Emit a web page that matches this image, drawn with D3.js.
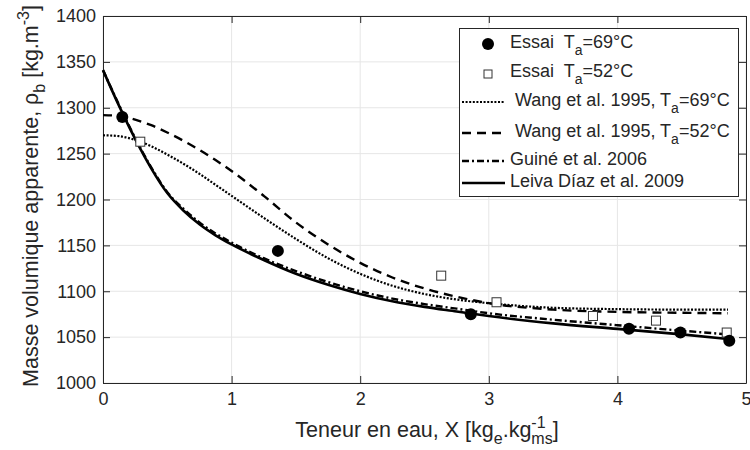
<!DOCTYPE html>
<html>
<head>
<meta charset="utf-8">
<script src="https://cdn.jsdelivr.net/npm/d3@7"></script>
<style>
  body { margin: 0; background: #fff; }
  text { font-family: "Liberation Sans", Arial, Helvetica, sans-serif; fill: #262626; }
</style>
</head>
<body>
<svg id="chart" width="750" height="450"></svg>
<script>
// measured points
const essai69X = [0.15, 1.36, 2.86, 4.09, 4.49, 4.87];
const essai69Y = [1290, 1144, 1075, 1059, 1055, 1046];
const essai52X = [0.29, 2.63, 3.06, 3.81, 4.30, 4.85];
const essai52Y = [1263, 1117, 1088, 1073, 1068, 1055];

// model curves
const xModel = [0, 0.125, 0.25, 0.375, 0.5, 0.625, 0.75, 0.875, 1, 1.25, 1.5, 1.75, 2, 2.25, 2.5, 2.75, 3, 3.5, 4, 4.5, 4.86];
const wang69 = [1270, 1269, 1265, 1258, 1249, 1239, 1228, 1216, 1204, 1180, 1157, 1136, 1119, 1106, 1097, 1091, 1087, 1082, 1080.5, 1080, 1080];
const wang52 = [1292, 1291, 1287, 1281, 1273, 1264, 1254, 1243, 1231, 1204, 1175, 1151, 1131, 1115, 1103, 1094, 1087, 1080, 1077.5, 1076.5, 1076];
const guine = [1341, 1303, 1267, 1235, 1208, 1190, 1175, 1163, 1153, 1136, 1122, 1110, 1100, 1092, 1086, 1081, 1076, 1069, 1063, 1057, 1053];
const leiva = [1341, 1302, 1266, 1234, 1207, 1188, 1173, 1161, 1151, 1134, 1119, 1107, 1097, 1089, 1083, 1078, 1073, 1065, 1059, 1053, 1048];

const xTicks = [0, 1, 2, 3, 4, 5];
const yTicks = [1000, 1050, 1100, 1150, 1200, 1250, 1300, 1350, 1400];

const ink = '#262626';
const pL = 103, pR = 746, pT = 16, pB = 383;

const svg = d3.select('#chart');
const x = d3.scaleLinear().domain([0, 5]).range([pL, pR]);
const y = d3.scaleLinear().domain([1000, 1400]).range([pB, pT]);

// grid
svg.append('g').selectAll('line').data(xTicks).join('line')
  .attr('x1', d => x(d)).attr('x2', d => x(d)).attr('y1', pT).attr('y2', pB)
  .attr('stroke', '#e6e6e6');
svg.append('g').selectAll('line').data(yTicks).join('line')
  .attr('y1', d => y(d)).attr('y2', d => y(d)).attr('x1', pL).attr('x2', pR)
  .attr('stroke', '#e6e6e6');

// axes, ticks inside like matlab
const tk = 7;
const fmt = d3.format('d');
const axB = svg.append('g').attr('transform', `translate(0,${pB})`)
  .call(d3.axisBottom(x).tickValues(xTicks).tickFormat(fmt).tickSizeInner(-tk).tickSizeOuter(0).tickPadding(9));
const axT = svg.append('g').attr('transform', `translate(0,${pT})`)
  .call(d3.axisTop(x).tickValues(xTicks).tickSizeInner(-tk).tickSizeOuter(0).tickFormat(''));
const axL = svg.append('g').attr('transform', `translate(${pL},0)`)
  .call(d3.axisLeft(y).tickValues(yTicks).tickFormat(fmt).tickSizeInner(-tk).tickSizeOuter(0).tickPadding(7));
const axR = svg.append('g').attr('transform', `translate(${pR},0)`)
  .call(d3.axisRight(y).tickValues(yTicks).tickSizeInner(-tk).tickSizeOuter(0).tickFormat(''));
[axB, axT, axL, axR].forEach(a => {
  a.attr('font-family', null);
  a.select('.domain').attr('stroke', ink);
  a.selectAll('.tick line').attr('stroke', ink);
  a.selectAll('.tick text').attr('fill', ink).style('font-size', '18px');
});

// curves
const line = (ys) => d3.line().x((d, i) => x(xModel[i])).y(d => y(d)).curve(d3.curveMonotoneX)(ys);
const styles = [
  { data: wang69, dash: '2,1.6', w: 2.2 },
  { data: wang52, dash: '9,6', w: 2.4 },
  { data: guine, dash: '7,3,2,3', w: 2.4 },
  { data: leiva, dash: null, w: 2.6 }
];
styles.forEach(s => {
  svg.append('path').attr('d', line(s.data)).attr('fill', 'none')
    .attr('stroke', '#000').attr('stroke-width', s.w)
    .attr('stroke-dasharray', s.dash);
});

// markers
svg.append('g').selectAll('rect').data(essai52X).join('rect')
  .attr('x', (d) => x(d) - 4.5).attr('y', (d, i) => y(essai52Y[i]) - 4.5)
  .attr('width', 9).attr('height', 9)
  .attr('fill', '#fff').attr('stroke', '#333').attr('stroke-width', 1);
svg.append('g').selectAll('circle').data(essai69X).join('circle')
  .attr('cx', d => x(d)).attr('cy', (d, i) => y(essai69Y[i])).attr('r', 6)
  .attr('fill', '#000');

// axis labels
const xl = svg.append('text').attr('x', 427).attr('y', 437).attr('text-anchor', 'middle')
  .style('font-size', '21.5px');
xl.append('tspan').text('Teneur en eau, X [kg');
xl.append('tspan').text('e').attr('dy', 7).style('font-size', '16px');
xl.append('tspan').text('.kg').attr('dy', -7);
const sup = xl.append('tspan').text('-1').attr('dy', -9).style('font-size', '16px');
const sub = xl.append('tspan').text('ms').attr('dy', 16).style('font-size', '16px');
xl.append('tspan').text(']').attr('dy', -7);
sub.attr('dx', -sup.node().getComputedTextLength());

const yl = svg.append('text').attr('transform', 'translate(38,196) rotate(-90)')
  .attr('text-anchor', 'middle').style('font-size', '21.5px');
yl.append('tspan').text('Masse volumique apparente, ρ');
yl.append('tspan').text('b').attr('dy', 7).style('font-size', '16px');
yl.append('tspan').text(' [kg.m').attr('dy', -7);
yl.append('tspan').text('-3').attr('dy', -9).style('font-size', '16px');
yl.append('tspan').text(']').attr('dy', 9);

// legend
const lg = svg.append('g');
lg.append('rect').attr('x', 459.5).attr('y', 28.5).attr('width', 279).attr('height', 168)
  .attr('fill', '#fff').attr('stroke', ink);
const entries = [
  { label: 'Essai  T', sub: 'a', rest: '=69°C', cy: 42, kind: 'circle' },
  { label: 'Essai  T', sub: 'a', rest: '=52°C', cy: 71, kind: 'square' },
  { label: ' Wang et al. 1995, T', sub: 'a', rest: '=69°C', cy: 100, kind: 'line', st: styles[0] },
  { label: ' Wang et al. 1995, T', sub: 'a', rest: '=52°C', cy: 131, kind: 'line', st: styles[1] },
  { label: 'Guiné et al. 2006', cy: 159, kind: 'line', st: styles[2] },
  { label: 'Leiva Díaz et al. 2009', cy: 181, kind: 'line', st: styles[3] }
];
entries.forEach(e => {
  if (e.kind === 'circle') {
    lg.append('circle').attr('cx', 488).attr('cy', e.cy + 2).attr('r', 6).attr('fill', '#000');
  } else if (e.kind === 'square') {
    lg.append('rect').attr('x', 484).attr('y', e.cy - 1).attr('width', 8).attr('height', 8)
      .attr('fill', '#fff').attr('stroke', '#333');
  } else {
    lg.append('line').attr('x1', 462).attr('x2', 505).attr('y1', e.cy + 2).attr('y2', e.cy + 2)
      .attr('stroke', '#000').attr('stroke-width', e.st.w).attr('stroke-dasharray', e.st.dash);
  }
  const t = lg.append('text').attr('x', 510).attr('y', e.cy + 6).style('font-size', '18px')
    .attr('xml:space', 'preserve').style('white-space', 'pre');
  t.append('tspan').text(e.label);
  if (e.sub) {
    t.append('tspan').text(e.sub).attr('dy', 7).style('font-size', '14px');
    t.append('tspan').text(e.rest).attr('dy', -7);
  }
});
</script>
</body>
</html>
